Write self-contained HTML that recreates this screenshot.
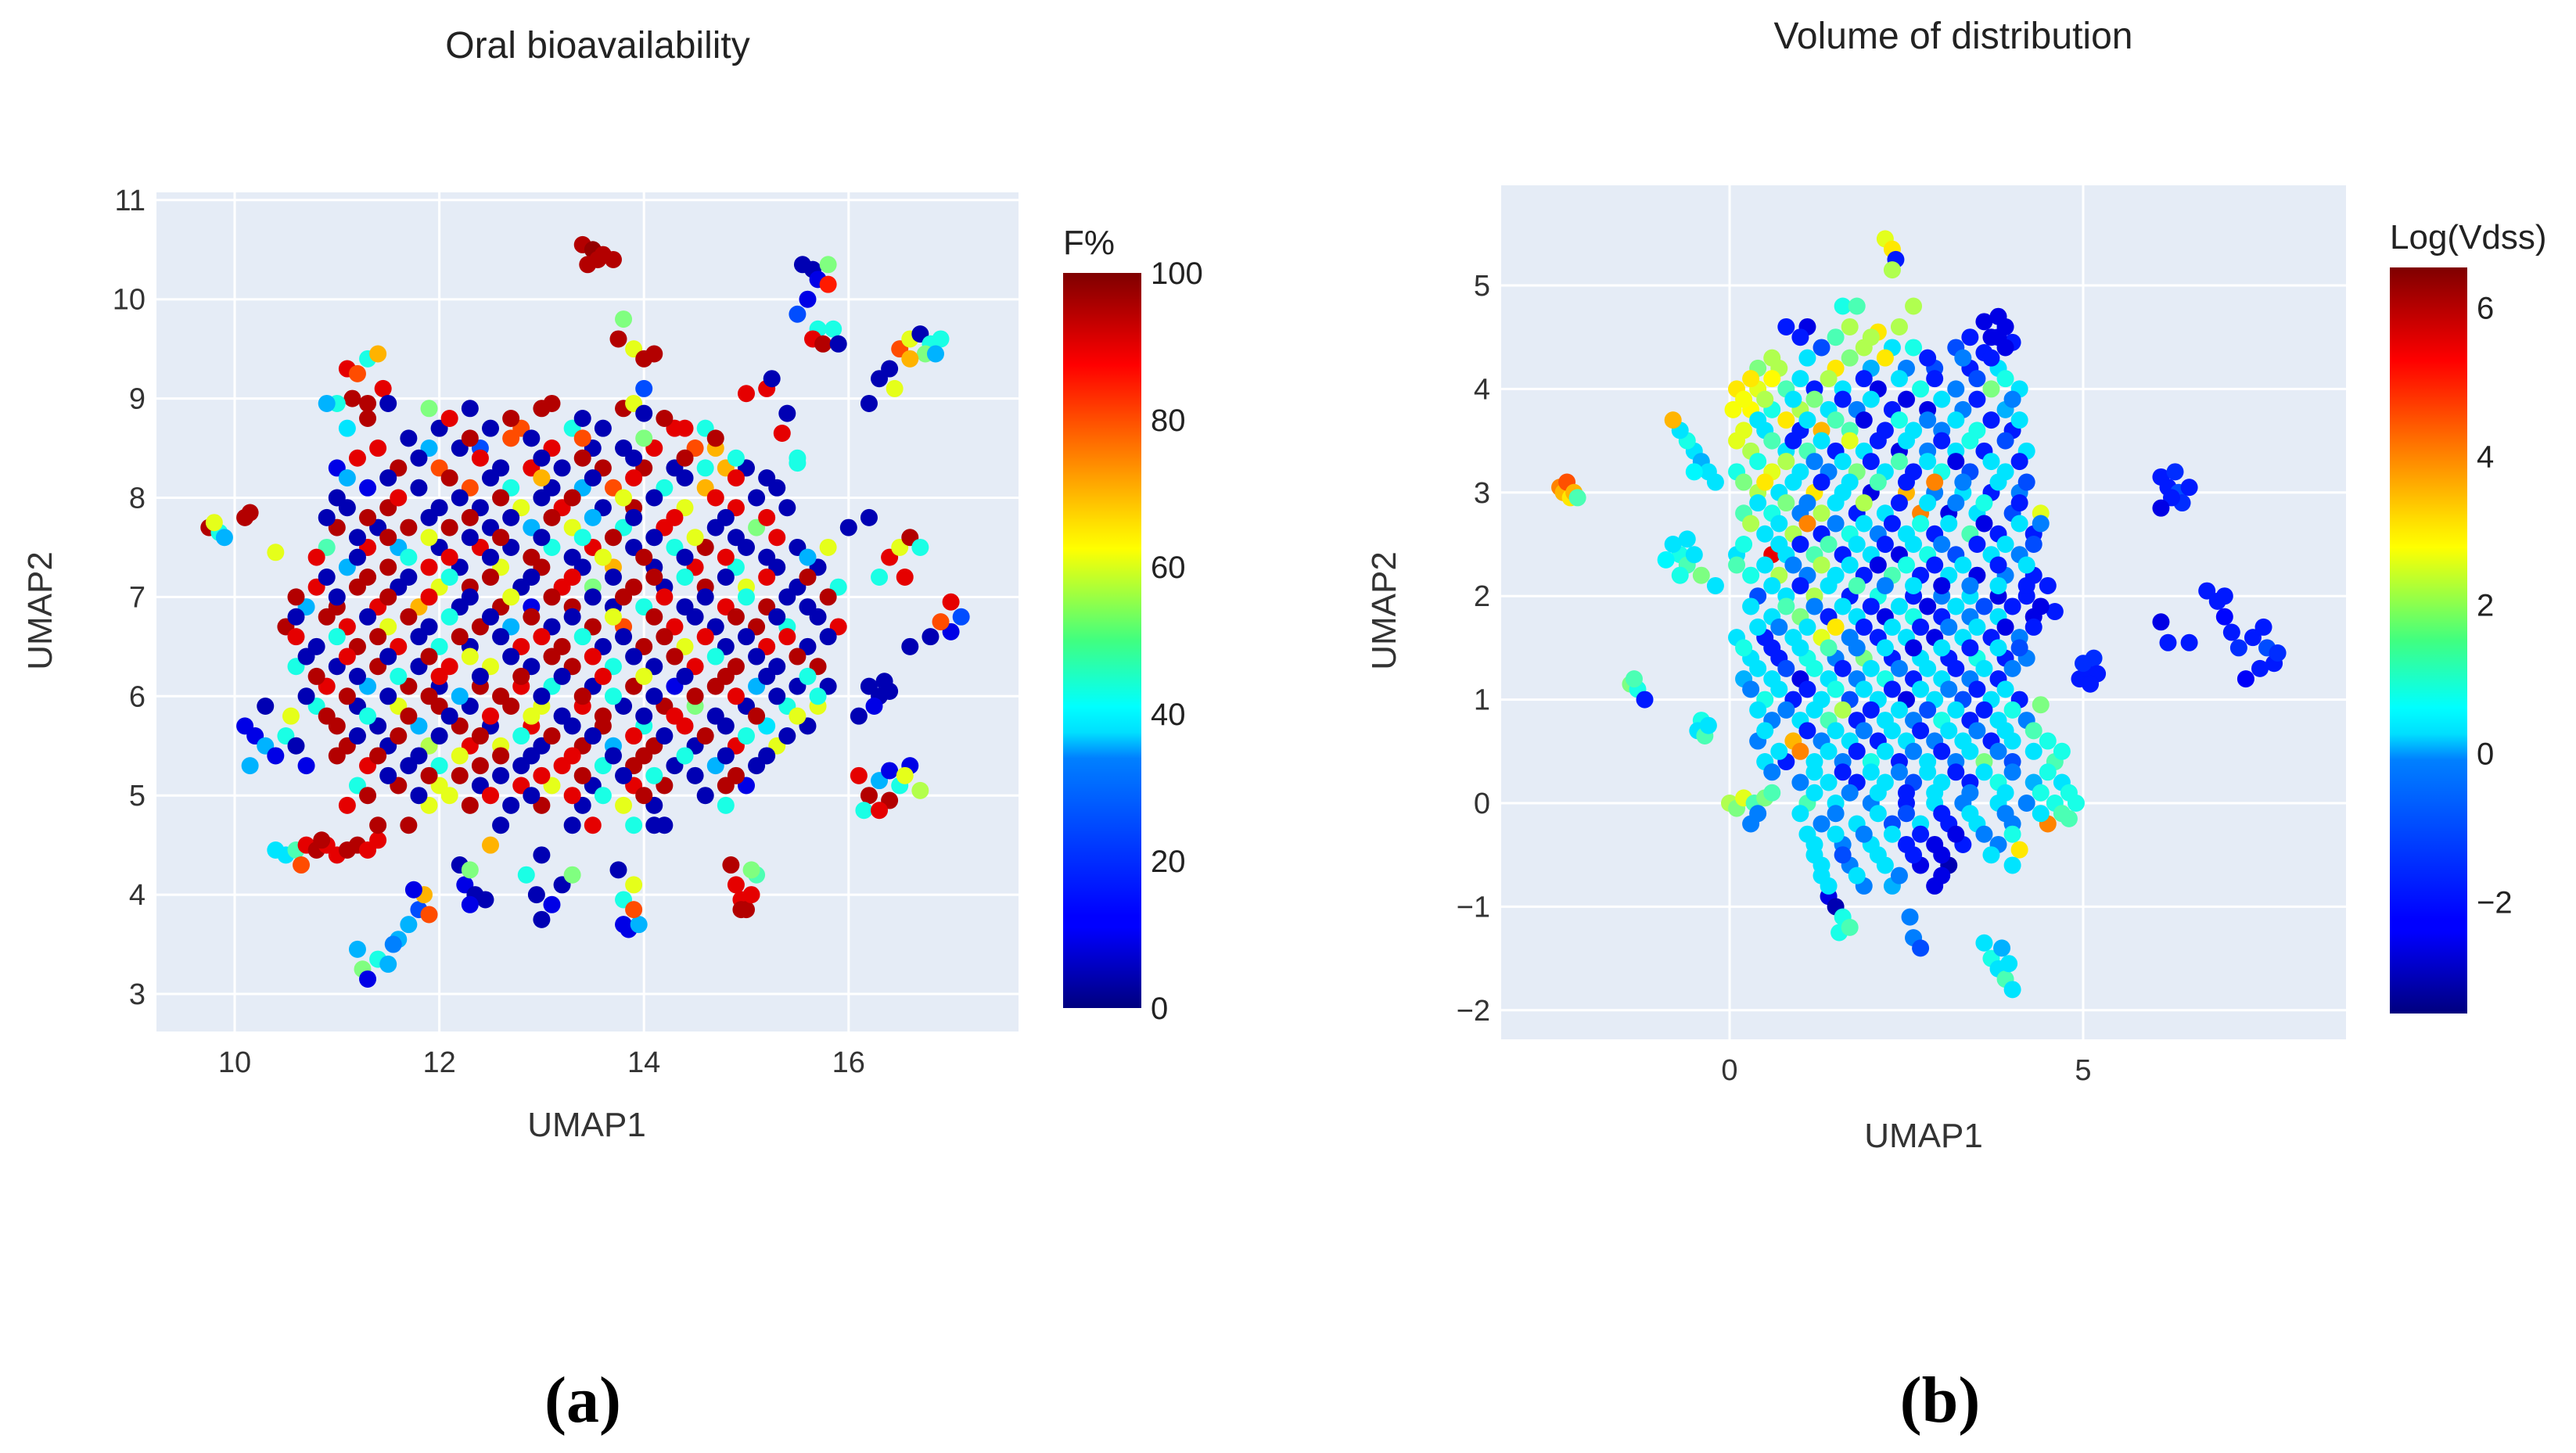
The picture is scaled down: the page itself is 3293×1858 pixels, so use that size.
<!DOCTYPE html>
<html><head><meta charset="utf-8">
<style>
html,body{margin:0;padding:0;background:#fff;}
svg{display:block;font-family:"Liberation Sans",sans-serif;}
</style></head>
<body>
<svg id="fig" width="3293" height="1858" viewBox="0 0 3293 1858" xmlns="http://www.w3.org/2000/svg">
<defs>
<linearGradient id="jet" x1="0" y1="1" x2="0" y2="0">
<stop offset="0" stop-color="#00007f"/><stop offset="0.11" stop-color="#0000ff"/>
<stop offset="0.125" stop-color="#0000ff"/><stop offset="0.34" stop-color="#0080ff"/>
<stop offset="0.375" stop-color="#00dfff"/><stop offset="0.41" stop-color="#00ffff"/>
<stop offset="0.5" stop-color="#40ff80"/><stop offset="0.625" stop-color="#ffff00"/>
<stop offset="0.66" stop-color="#ffdf00"/><stop offset="0.875" stop-color="#ff0000"/>
<stop offset="1" stop-color="#7f0000"/>
</linearGradient>
</defs>
<g id="panelA"></g>
<g id="panelB"></g>
<text x="745" y="1818" font-family="Liberation Serif,serif" font-weight="bold" font-size="84" text-anchor="middle">(a)</text>
<text x="2480" y="1818" font-family="Liberation Serif,serif" font-weight="bold" font-size="84" text-anchor="middle">(b)</text>
</svg>
<script>
// ---------- Data: panel A (UMAP1, UMAP2, F%) ----------
const aXTicks = [10,12,14,16];
const aYTicks = [3,4,5,6,7,8,9,10,11];
const aCbTicks = [0,20,40,60,80,100];
const aPoints = [
[9.75,7.7,95],[9.85,7.65,40],[9.8,7.75,60],[10.1,7.8,95],[10.15,7.85,95],[9.9,7.6,30],[10.4,7.45,60],
[13.4,10.55,95],[13.5,10.5,98],[13.55,10.4,95],[13.45,10.35,95],[13.6,10.45,95],[13.7,10.4,95],
[15.55,10.35,5],[15.65,10.3,5],[15.7,10.2,10],[15.8,10.35,50],[15.6,10.0,10],[15.5,9.85,20],[15.7,9.7,40],[15.65,9.6,90],[15.75,9.55,95],[15.85,9.7,40],[15.9,9.55,5],[15.8,10.15,85],
[16.5,9.5,80],[16.6,9.6,60],[16.7,9.65,5],[16.8,9.55,40],[16.9,9.6,40],[16.75,9.45,50],[16.85,9.45,30],[16.6,9.4,70],[16.4,9.3,5],[16.3,9.2,5],[16.45,9.1,60],[16.2,8.95,5],
[10.4,4.45,35],[10.5,4.4,35],[10.6,4.45,45],[10.7,4.5,90],[10.8,4.45,95],[10.9,4.5,90],[11.0,4.4,90],[11.1,4.45,95],[11.2,4.5,95],[11.3,4.45,90],[11.4,4.55,90],[10.65,4.3,80],[10.85,4.55,95],
[11.2,3.45,30],[11.25,3.25,50],[11.3,3.15,10],[11.4,3.35,40],[11.5,3.3,30],[11.6,3.55,30],[11.7,3.7,30],[11.8,3.85,20],[11.85,4.0,70],[11.9,3.8,80],[11.75,4.05,10],[11.55,3.5,25],
[12.2,4.3,5],[12.25,4.1,10],[12.35,4.0,5],[12.3,4.25,50],[12.45,3.95,5],[12.3,3.9,10],
[12.95,4.0,5],[13.1,3.9,10],[13.2,4.1,5],[13.0,3.75,5],[13.3,4.2,50],[12.85,4.2,40],
[13.8,3.7,10],[13.85,3.65,10],[13.95,3.7,30],[13.8,3.95,40],[13.9,4.1,60],[13.75,4.25,5],[13.9,3.85,80],
[14.85,4.3,95],[14.9,4.1,90],[14.95,3.95,90],[15.0,3.85,95],[15.05,4.0,90],[15.1,4.2,45],[14.95,3.85,95],[15.05,4.25,50],
[16.1,5.2,90],[16.2,5.0,95],[16.3,5.15,30],[16.4,5.25,10],[16.5,5.1,40],[16.6,5.3,10],[16.7,5.05,55],[16.15,4.85,40],[16.4,4.95,95],[16.55,5.2,60],[16.3,4.85,90],
[16.2,6.1,5],[16.3,6.0,5],[16.4,6.05,5],[16.25,5.9,10],[16.35,6.15,5],[16.1,5.8,5],
[16.6,6.5,5],[16.8,6.6,5],[17.0,6.65,10],[17.1,6.8,20],[17.0,6.95,90],[16.9,6.75,80],
[16.4,7.4,90],[16.5,7.5,60],[16.6,7.6,95],[16.7,7.5,40],[16.55,7.2,90],[16.3,7.2,40],[16.2,7.8,5],[16.0,7.7,5],
[15.0,9.05,90],[15.2,9.1,90],[15.25,9.2,5],[15.4,8.85,5],[15.35,8.65,90],[15.5,8.35,40],
[10.1,5.7,10],[10.2,5.6,10],[10.3,5.5,30],[10.15,5.3,30],[10.4,5.4,10],[10.5,5.6,40],[10.6,5.5,5],[10.3,5.9,5],[10.7,5.3,10],[10.55,5.8,60],
[11.1,9.3,90],[11.2,9.25,80],[11.3,9.4,40],[11.4,9.45,70],[11.15,9.0,95],[11.3,8.95,95],[11.45,9.1,90],[11.0,8.95,40],[11.1,8.7,35],[11.5,8.95,5],[10.9,8.95,30],
[11.9,8.9,50],[12.3,8.9,5],[13.0,8.9,95],[13.1,8.95,95],[13.8,8.9,95],[13.9,8.95,60],[14.0,8.85,5],
[12.0,8.7,5],[12.5,8.7,5],[12.8,8.7,80],[13.3,8.7,40],[13.6,8.7,5],[14.3,8.7,90],[14.4,8.7,90],[14.6,8.7,40],
[11.4,8.5,90],[11.9,8.5,30],[12.2,8.5,5],[12.4,8.5,20],[13.1,8.5,90],[13.5,8.5,5],[13.8,8.5,5],[14.1,8.5,90],[14.5,8.5,80],[14.7,8.5,70],
[11.0,8.3,10],[11.6,8.3,95],[12.0,8.3,80],[12.6,8.3,5],[12.9,8.3,90],[13.2,8.3,5],[13.6,8.3,95],[14.0,8.3,95],[14.3,8.3,5],[14.8,8.3,70],[15.0,8.3,5],
[11.3,8.1,10],[11.8,8.1,5],[12.3,8.1,80],[12.7,8.1,40],[13.1,8.1,5],[13.4,8.1,30],[13.7,8.1,80],[14.2,8.1,40],[14.6,8.1,70],[15.3,8.1,5],
[11.1,7.9,5],[11.5,7.9,95],[12.0,7.9,5],[12.4,7.9,5],[12.8,7.9,60],[13.2,7.9,90],[13.6,7.9,5],[13.9,7.9,95],[14.4,7.9,60],[14.9,7.9,90],[15.4,7.9,5],
[11.0,7.7,95],[11.4,7.7,5],[11.7,7.7,95],[12.1,7.7,95],[12.5,7.7,5],[12.9,7.7,30],[13.3,7.7,60],[13.8,7.7,40],[14.2,7.7,90],[14.7,7.7,5],[15.1,7.7,50],
[10.9,7.5,45],[11.3,7.5,90],[11.6,7.5,30],[12.0,7.5,5],[12.4,7.5,90],[12.7,7.5,5],[13.1,7.5,40],[13.5,7.5,90],[13.9,7.5,5],[14.3,7.5,40],[14.6,7.5,95],[15.0,7.5,5],[15.5,7.5,5],[15.8,7.5,60],
[11.1,7.3,30],[11.5,7.3,95],[11.9,7.3,90],[12.2,7.3,5],[12.6,7.3,60],[13.0,7.3,95],[13.4,7.3,5],[13.7,7.3,70],[14.1,7.3,5],[14.5,7.3,90],[14.9,7.3,40],[15.3,7.3,5],[15.7,7.3,5],
[10.8,7.1,90],[11.2,7.1,95],[11.6,7.1,5],[12.0,7.1,60],[12.3,7.1,95],[12.8,7.1,5],[13.2,7.1,90],[13.5,7.1,50],[13.9,7.1,95],[14.2,7.1,5],[14.6,7.1,95],[15.0,7.1,60],[15.5,7.1,5],[15.9,7.1,40],
[10.7,6.9,30],[11.0,6.9,95],[11.4,6.9,90],[11.8,6.9,70],[12.2,6.9,5],[12.6,6.9,95],[12.9,6.9,10],[13.3,6.9,95],[13.7,6.9,5],[14.0,6.9,40],[14.4,6.9,5],[14.8,6.9,90],[15.2,6.9,95],[15.6,6.9,5],
[10.5,6.7,95],[11.1,6.7,90],[11.5,6.7,60],[11.9,6.7,5],[12.4,6.7,95],[12.7,6.7,30],[13.1,6.7,5],[13.5,6.7,95],[13.8,6.7,80],[14.3,6.7,90],[14.7,6.7,5],[15.1,6.7,95],[15.4,6.7,40],[15.9,6.7,90],
[10.8,6.5,5],[11.2,6.5,95],[11.6,6.5,90],[12.0,6.5,40],[12.3,6.5,5],[12.8,6.5,90],[13.2,6.5,95],[13.6,6.5,5],[14.0,6.5,95],[14.4,6.5,60],[14.8,6.5,5],[15.2,6.5,90],[15.6,6.5,5],
[10.6,6.3,40],[11.0,6.3,5],[11.4,6.3,95],[11.8,6.3,5],[12.1,6.3,90],[12.5,6.3,60],[12.9,6.3,5],[13.3,6.3,95],[13.7,6.3,40],[14.1,6.3,5],[14.5,6.3,90],[14.9,6.3,95],[15.3,6.3,5],[15.7,6.3,95],
[10.9,6.1,90],[11.3,6.1,30],[11.7,6.1,95],[12.0,6.1,5],[12.4,6.1,95],[12.8,6.1,90],[13.1,6.1,40],[13.5,6.1,5],[13.9,6.1,95],[14.3,6.1,10],[14.7,6.1,95],[15.1,6.1,30],[15.5,6.1,5],[15.8,6.1,5],
[10.8,5.9,40],[11.2,5.9,5],[11.6,5.9,60],[12.0,5.9,95],[12.3,5.9,5],[12.7,5.9,95],[13.0,5.9,60],[13.4,5.9,90],[13.8,5.9,5],[14.2,5.9,95],[14.5,5.9,50],[15.0,5.9,5],[15.4,5.9,40],[15.7,5.9,60],
[11.0,5.7,95],[11.4,5.7,5],[11.8,5.7,30],[12.2,5.7,95],[12.5,5.7,5],[12.9,5.7,90],[13.3,5.7,5],[13.6,5.7,95],[14.0,5.7,40],[14.4,5.7,90],[14.8,5.7,5],[15.2,5.7,35],[15.6,5.7,5],
[11.1,5.5,95],[11.5,5.5,5],[11.9,5.5,55],[12.3,5.5,90],[12.6,5.5,60],[13.0,5.5,5],[13.4,5.5,95],[13.7,5.5,30],[14.1,5.5,95],[14.5,5.5,5],[14.9,5.5,90],[15.3,5.5,60],
[11.3,5.3,90],[11.7,5.3,5],[12.0,5.3,40],[12.4,5.3,95],[12.8,5.3,5],[13.2,5.3,90],[13.6,5.3,40],[13.9,5.3,95],[14.3,5.3,5],[14.7,5.3,30],[15.1,5.3,5],
[11.2,5.1,40],[11.6,5.1,95],[12.0,5.1,60],[12.4,5.1,5],[12.8,5.1,90],[13.1,5.1,60],[13.5,5.1,5],[13.9,5.1,90],[14.2,5.1,95],[14.8,5.1,95],[15.0,5.1,10],
[11.1,4.9,90],[11.9,4.9,60],[12.3,4.9,95],[12.7,4.9,5],[13.0,4.9,95],[13.4,4.9,5],[13.8,4.9,60],[14.1,4.9,5],[14.8,4.9,40],
[11.4,4.7,95],[12.6,4.7,5],[13.3,4.7,5],[13.5,4.7,90],[13.9,4.7,40],[14.1,4.7,5],[14.2,4.7,5],
[12.7,8.6,80],[12.5,4.5,70],[11.7,4.7,95],[13.0,4.4,5],[14.6,8.3,40],[13.8,9.8,50],[13.75,9.6,95],[13.9,9.5,60],[14.0,9.4,95],[14.1,9.45,95],[14.0,9.1,20],[15.5,8.4,40],
[12.1,8.8,90],[12.7,8.8,95],[13.4,8.8,5],[14.2,8.8,95],[11.3,8.8,95],
[11.7,8.6,5],[12.3,8.6,95],[12.9,8.6,5],[13.4,8.6,80],[14.0,8.6,50],[14.7,8.6,95],
[11.2,8.4,90],[11.8,8.4,5],[12.4,8.4,90],[13.0,8.4,5],[13.4,8.4,95],[13.9,8.4,5],[14.4,8.4,95],[14.9,8.4,40],
[11.1,8.2,30],[11.5,8.2,5],[12.1,8.2,95],[12.5,8.2,5],[13.0,8.2,70],[13.5,8.2,5],[13.9,8.2,90],[14.4,8.2,5],[14.9,8.2,90],[15.2,8.2,5],
[11.0,8.0,5],[11.6,8.0,90],[12.2,8.0,5],[12.6,8.0,95],[13.0,8.0,5],[13.3,8.0,95],[13.8,8.0,60],[14.1,8.0,5],[14.7,8.0,90],[15.1,8.0,5],
[10.9,7.8,5],[11.3,7.8,95],[11.9,7.8,5],[12.3,7.8,95],[12.7,7.8,5],[13.1,7.8,95],[13.5,7.8,30],[13.9,7.8,5],[14.3,7.8,90],[14.8,7.8,5],[15.2,7.8,90],
[11.2,7.6,5],[11.5,7.6,95],[11.9,7.6,60],[12.3,7.6,5],[12.6,7.6,95],[13.0,7.6,5],[13.4,7.6,40],[13.7,7.6,95],[14.1,7.6,5],[14.5,7.6,60],[14.9,7.6,5],[15.3,7.6,90],
[10.8,7.4,90],[11.2,7.4,5],[11.7,7.4,40],[12.1,7.4,90],[12.5,7.4,5],[12.9,7.4,95],[13.3,7.4,5],[13.6,7.4,60],[14.0,7.4,95],[14.4,7.4,5],[14.8,7.4,90],[15.2,7.4,5],[15.6,7.4,30],
[10.9,7.2,5],[11.3,7.2,95],[11.7,7.2,5],[12.1,7.2,40],[12.5,7.2,95],[12.9,7.2,5],[13.3,7.2,90],[13.7,7.2,5],[14.1,7.2,95],[14.4,7.2,40],[14.8,7.2,5],[15.2,7.2,90],[15.6,7.2,95],
[10.6,7.0,95],[11.0,7.0,5],[11.5,7.0,95],[11.9,7.0,90],[12.3,7.0,5],[12.7,7.0,60],[13.1,7.0,95],[13.5,7.0,5],[13.8,7.0,95],[14.2,7.0,90],[14.6,7.0,5],[15.0,7.0,40],[15.4,7.0,5],[15.8,7.0,95],
[10.6,6.8,5],[10.9,6.8,95],[11.3,6.8,5],[11.7,6.8,95],[12.1,6.8,40],[12.5,6.8,5],[12.9,6.8,95],[13.3,6.8,5],[13.7,6.8,60],[14.1,6.8,95],[14.5,6.8,5],[14.9,6.8,95],[15.3,6.8,5],[15.7,6.8,5],
[10.6,6.6,90],[11.0,6.6,40],[11.4,6.6,95],[11.8,6.6,5],[12.2,6.6,95],[12.6,6.6,5],[13.0,6.6,90],[13.4,6.6,40],[13.8,6.6,5],[14.2,6.6,95],[14.6,6.6,90],[15.0,6.6,5],[15.4,6.6,90],[15.8,6.6,5],
[10.7,6.4,5],[11.1,6.4,90],[11.5,6.4,5],[11.9,6.4,95],[12.3,6.4,60],[12.7,6.4,5],[13.1,6.4,95],[13.5,6.4,90],[13.9,6.4,5],[14.3,6.4,95],[14.7,6.4,40],[15.1,6.4,5],[15.5,6.4,95],
[10.8,6.2,95],[11.2,6.2,5],[11.6,6.2,40],[12.0,6.2,90],[12.4,6.2,5],[12.8,6.2,95],[13.2,6.2,5],[13.6,6.2,90],[14.0,6.2,60],[14.4,6.2,5],[14.8,6.2,95],[15.2,6.2,5],[15.6,6.2,40],
[10.7,6.0,5],[11.1,6.0,95],[11.5,6.0,5],[11.9,6.0,95],[12.2,6.0,30],[12.6,6.0,95],[13.0,6.0,5],[13.4,6.0,95],[13.7,6.0,40],[14.1,6.0,5],[14.5,6.0,95],[14.9,6.0,90],[15.3,6.0,5],[15.7,6.0,40],
[10.9,5.8,95],[11.3,5.8,40],[11.7,5.8,95],[12.1,5.8,5],[12.5,5.8,90],[12.9,5.8,60],[13.2,5.8,5],[13.6,5.8,95],[14.0,5.8,5],[14.3,5.8,90],[14.7,5.8,5],[15.1,5.8,95],[15.5,5.8,60],
[11.2,5.6,5],[11.6,5.6,95],[12.0,5.6,5],[12.4,5.6,95],[12.8,5.6,40],[13.1,5.6,95],[13.5,5.6,5],[13.9,5.6,90],[14.2,5.6,5],[14.6,5.6,95],[15.0,5.6,40],[15.4,5.6,5],
[11.0,5.4,95],[11.4,5.4,95],[11.8,5.4,5],[12.2,5.4,60],[12.6,5.4,95],[12.9,5.4,5],[13.3,5.4,90],[13.7,5.4,5],[14.0,5.4,95],[14.4,5.4,40],[14.8,5.4,5],[15.2,5.4,5],
[11.5,5.2,5],[11.9,5.2,95],[12.2,5.2,95],[12.6,5.2,5],[13.0,5.2,90],[13.4,5.2,95],[13.8,5.2,5],[14.1,5.2,40],[14.5,5.2,5],[14.9,5.2,95],
[11.3,5.0,95],[11.8,5.0,5],[12.1,5.0,60],[12.5,5.0,90],[12.9,5.0,5],[13.3,5.0,90],[13.6,5.0,40],[14.0,5.0,95],[14.6,5.0,5]
];
// ---------- Data: panel B (UMAP1, UMAP2, Log(Vdss)) ----------
const bXTicks = [0,5];
const bYTicks = [-2,-1,0,1,2,3,4,5];
const bCbTicks = [-2,0,2,4,6];
const bPoints = [
[-2.4,3.05,4],[-2.35,3.0,3.5],[-2.3,3.1,4.5],[-2.25,2.95,3],[-2.2,3.0,3.5],[-2.15,2.95,1],
[-1.4,1.15,1.5],[-1.3,1.1,0.5],[-1.2,1.0,-2],[-1.35,1.2,1],
[-0.4,0.8,0.5],[-0.45,0.7,0],[-0.35,0.65,1],[-0.3,0.75,0],
[-0.7,2.4,0.5],[-0.8,2.5,0],[-0.6,2.3,1],[-0.5,2.4,0],[-0.4,2.2,1.5],[-0.2,2.1,0],[-0.7,2.2,0.5],[-0.9,2.35,0.2],[-0.6,2.55,0],
[-0.5,3.4,0],[-0.4,3.3,-0.5],[-0.6,3.5,0.5],[-0.3,3.2,0],[-0.7,3.6,0],[-0.5,3.2,0.2],[-0.2,3.1,0],[-0.8,3.7,3.5],
[6.1,3.15,-2],[6.2,3.05,-2],[6.3,3.2,-1.8],[6.35,3.0,-1.5],[6.4,2.9,-1.8],[6.5,3.05,-2],[6.25,2.95,-2],[6.1,2.85,-2.5],
[4.95,1.2,-2],[5.05,1.3,-2],[5.15,1.4,-1.8],[5.2,1.25,-2],[5.0,1.35,-1.8],[5.1,1.15,-2],
[6.75,2.05,-2],[6.9,1.95,-2],[7.0,1.8,-2.2],[7.1,1.65,-2],[7.2,1.5,-1.8],[7.4,1.6,-2],[7.55,1.7,-2],[7.6,1.5,-1.5],[7.7,1.35,-2],[7.5,1.3,-2],[7.3,1.2,-2.3],[6.5,1.55,-2],[6.2,1.55,-2],[6.1,1.75,-2.5],[7.0,2.0,-2],[7.75,1.45,-1.8],
[2.2,5.45,2.5],[2.3,5.35,3],[2.35,5.25,-2],[2.3,5.15,2],
[3.6,-1.35,0],[3.7,-1.5,0.5],[3.8,-1.6,0],[3.9,-1.7,1],[4.0,-1.8,0],[3.85,-1.4,-0.5],[3.95,-1.55,0],
[2.6,-1.3,-1],[2.7,-1.4,-1.5],[2.55,-1.1,-1],
[1.4,-0.9,-2.5],[1.5,-1.0,-3],[1.6,-1.1,0.5],[1.55,-1.25,0.5],[1.7,-1.2,1],
[1.6,4.8,0.5],[1.8,4.8,1],[2.6,4.8,2],[3.6,4.65,-2.5],[3.8,4.7,-2.5],[3.9,4.6,-2.5],
[0.8,4.6,-2],[1.1,4.6,-2.5],[1.7,4.6,2],[2.1,4.55,3],[2.4,4.6,2],[3.7,4.5,-2.5],[4.0,4.45,-2],
[1.3,4.4,-1.5],[1.9,4.4,2],[2.3,4.4,0],[2.6,4.4,0.5],[3.2,4.4,-1.5],[3.6,4.35,-2],[3.9,4.4,-2.5],
[0.4,4.2,1.5],[0.7,4.2,2],[1.5,4.2,3],[2.0,4.2,-0.5],[2.5,4.2,-1],[2.9,4.2,-1.5],[3.4,4.2,-2],[3.8,4.2,0],
[0.1,4.0,3],[0.4,4.0,2.5],[0.8,4.0,1],[1.2,4.0,-2],[1.6,4.0,0],[2.1,4.0,-2.5],[2.7,4.0,0.5],[3.2,4.0,-1],[3.7,4.0,1.5],[4.1,4.0,0],
[0.05,3.8,2.7],[0.3,3.8,2.8],[0.6,3.8,0.5],[1.0,3.8,2],[1.4,3.8,0],[1.8,3.8,-1],[2.3,3.8,-2],[2.8,3.8,-2.5],[3.3,3.8,-1],[3.9,3.8,-0.5],
[0.2,3.6,2.5],[0.5,3.6,0],[1.0,3.6,-2],[1.3,3.6,3.5],[1.7,3.6,1],[2.2,3.6,-2],[2.6,3.6,0],[3.0,3.6,-1],[3.5,3.6,0.5],[4.0,3.6,-2],
[0.3,3.4,2],[0.8,3.4,0],[1.1,3.4,1],[1.5,3.4,-2],[1.9,3.4,0],[2.4,3.4,-2.5],[2.8,3.4,-1],[3.2,3.4,0],[3.6,3.4,-2],[4.2,3.4,0],
[0.1,3.2,0.5],[0.6,3.2,2.5],[1.0,3.2,0],[1.4,3.2,-1],[1.8,3.2,1.5],[2.2,3.2,0],[2.6,3.2,-2],[3.0,3.2,0.5],[3.4,3.2,-1.5],[3.9,3.2,0],
[0.4,3.0,2],[0.7,3.0,0],[1.2,3.0,3],[1.6,3.0,0],[2.0,3.0,-2.5],[2.5,3.0,3.5],[2.9,3.0,-1],[3.3,3.0,0],[3.7,3.0,-2],[4.1,3.0,-1],
[0.2,2.8,1],[0.6,2.8,0.5],[1.0,2.8,-1],[1.3,2.8,2],[1.8,2.8,-2],[2.2,2.8,0],[2.7,2.8,4],[3.1,2.8,-2.5],[3.5,2.8,0],[4.0,2.8,-1.5],[4.4,2.8,2.5],
[0.5,2.6,0],[0.9,2.6,2],[1.3,2.6,-2],[1.7,2.6,0.5],[2.1,2.6,-1],[2.5,2.6,0],[2.9,2.6,-2],[3.4,2.6,1],[3.8,2.6,-2],[4.3,2.6,-2],
[0.1,2.4,0],[0.6,2.4,5.5],[0.8,2.4,0],[1.2,2.4,1],[1.6,2.4,-2],[2.0,2.4,0],[2.4,2.4,-2.5],[2.8,2.4,0.5],[3.2,2.4,-1.5],[3.7,2.4,0],[4.1,2.4,-1],
[0.3,2.2,0.5],[0.7,2.2,2],[1.1,2.2,-1],[1.5,2.2,0],[1.9,2.2,-2],[2.3,2.2,1],[2.7,2.2,-2],[3.1,2.2,0],[3.5,2.2,-2.5],[3.9,2.2,-1],[4.3,2.2,-2],
[0.4,2.0,-1.5],[0.8,2.0,0],[1.2,2.0,2],[1.7,2.0,-2],[2.1,2.0,0.5],[2.6,2.0,-2],[3.0,2.0,-1],[3.4,2.0,0],[3.8,2.0,-2.5],[4.2,2.0,-2],
[0.6,1.8,0],[1.0,1.8,1.5],[1.4,1.8,-2],[1.8,1.8,0],[2.2,1.8,-2.5],[2.6,1.8,0.5],[3.0,1.8,-2],[3.4,1.8,-1],[3.8,1.8,0],[4.3,1.8,-2.5],[4.6,1.85,-2],
[0.1,1.6,0],[0.5,1.6,-2],[0.9,1.6,0],[1.3,1.6,2.5],[1.7,1.6,-1],[2.1,1.6,-2],[2.5,1.6,0],[2.9,1.6,-2.5],[3.3,1.6,0],[3.7,1.6,-2],[4.1,1.6,-1],
[0.3,1.4,0],[0.7,1.4,-2],[1.1,1.4,0.5],[1.5,1.4,-1],[1.9,1.4,1.5],[2.3,1.4,-2],[2.7,1.4,0],[3.1,1.4,-2],[3.5,1.4,0.5],[3.9,1.4,-2],[4.2,1.4,-1],
[0.2,1.2,-0.5],[0.6,1.2,0],[1.0,1.2,-2.5],[1.4,1.2,0],[1.8,1.2,-1],[2.2,1.2,0.5],[2.6,1.2,-2],[3.0,1.2,0],[3.4,1.2,-1],[3.8,1.2,-2],
[0.5,1.0,0.5],[0.9,1.0,-2],[1.3,1.0,0],[1.7,1.0,-1.5],[2.1,1.0,0],[2.5,1.0,-2.5],[2.9,1.0,0],[3.3,1.0,-1.5],[3.7,1.0,0],[4.1,1.0,-2],[4.4,0.95,1.5],
[0.6,0.8,-1],[1.0,0.8,0],[1.4,0.8,1],[1.8,0.8,-2],[2.2,0.8,0],[2.6,0.8,-1],[3.0,0.8,0.5],[3.4,0.8,-2],[3.8,0.8,0],[4.2,0.8,-1],
[0.4,0.6,-1],[0.9,0.6,3.5],[1.3,0.6,-1],[1.7,0.6,0],[2.1,0.6,-2],[2.5,0.6,0],[2.9,0.6,-1],[3.3,0.6,0],[3.7,0.6,-2],[4.0,0.6,0],[4.5,0.6,0.5],
[0.5,0.4,0],[0.8,0.4,-2],[1.2,0.4,0],[1.6,0.4,-1],[2.0,0.4,0.5],[2.4,0.4,-2],[2.8,0.4,0],[3.2,0.4,-1],[3.6,0.4,1.5],[4.0,0.4,-1.5],[4.6,0.4,1],
[1.0,0.2,-1],[1.4,0.2,0],[1.8,0.2,-2],[2.2,0.2,0],[2.6,0.2,-1.5],[3.0,0.2,0],[3.4,0.2,-2],[3.8,0.2,0.5],[4.3,0.2,-0.5],[4.7,0.2,0],
[0.0,0.0,2],[0.1,-0.05,1.5],[0.2,0.05,2.5],[0.35,0.0,1],[0.5,0.05,1.5],[1.1,0.0,1],[1.5,0.0,0],[2.0,0.0,-1],[2.5,0.0,-2],[2.9,0.0,0],[3.3,0.0,-1],[3.8,0.0,0],[4.2,0.0,-1],[4.6,0.0,0.5],[4.9,0.0,0.5],
[0.3,-0.2,-1],[1.3,-0.2,-1],[1.8,-0.2,0],[2.3,-0.2,-1.5],[2.7,-0.2,0],[3.1,-0.2,-2],[3.5,-0.2,0],[4.0,-0.2,-1],[4.5,-0.2,4],[4.8,-0.15,1],
[1.2,-0.4,0],[1.6,-0.4,-1],[2.0,-0.4,0],[2.5,-0.4,-2],[2.9,-0.4,-2.5],[3.3,-0.4,-2],[3.8,-0.4,-1],[4.1,-0.45,3],
[1.3,-0.6,0],[1.7,-0.6,-1],[2.2,-0.6,0],[2.7,-0.6,-2.5],[3.1,-0.6,-3],[4.0,-0.6,0],
[1.4,-0.8,0],[1.9,-0.8,-1],[2.3,-0.8,-0.5],[2.9,-0.8,-2.5],
[1.0,4.5,-2],[1.5,4.5,1],[2.0,4.5,2],[3.4,4.5,-2],[3.8,4.5,-2.5],
[0.6,4.3,2],[1.1,4.3,0],[1.7,4.3,1.5],[2.2,4.3,3],[2.8,4.3,-2],[3.3,4.3,-1],[3.7,4.3,-2],
[0.3,4.1,3],[0.6,4.1,2.8],[1.0,4.1,0],[1.4,4.1,2],[1.9,4.1,-2],[2.4,4.1,0],[2.9,4.1,-2],[3.5,4.1,-1.5],[3.9,4.1,0.5],
[0.2,3.9,2.7],[0.5,3.9,2],[0.9,3.9,0],[1.2,3.9,1.5],[1.6,3.9,-2],[2.0,3.9,0],[2.5,3.9,-2.5],[3.0,3.9,0],[3.5,3.9,-2],[4.0,3.9,-1],
[0.4,3.7,0],[0.8,3.7,3],[1.1,3.7,0],[1.5,3.7,1],[1.9,3.7,-2.5],[2.4,3.7,0.5],[2.8,3.7,-1],[3.2,3.7,0],[3.7,3.7,-2],[4.1,3.7,0],
[0.1,3.5,2.5],[0.6,3.5,1],[0.9,3.5,-2],[1.3,3.5,0],[1.7,3.5,2.5],[2.1,3.5,-2],[2.5,3.5,0],[3.0,3.5,-2],[3.4,3.5,0.5],[3.9,3.5,-1.5],
[0.4,3.3,0.5],[0.8,3.3,2],[1.2,3.3,-1],[1.6,3.3,0],[2.0,3.3,-2],[2.4,3.3,1],[2.8,3.3,0],[3.2,3.3,-2.5],[3.7,3.3,0],[4.1,3.3,-2],
[0.2,3.1,1.5],[0.5,3.1,3],[0.9,3.1,0],[1.3,3.1,-2],[1.7,3.1,0],[2.1,3.1,1],[2.5,3.1,-2],[2.9,3.1,4],[3.3,3.1,-1],[3.8,3.1,0],[4.2,3.1,-1.5],
[0.4,2.9,0],[0.8,2.9,1.5],[1.1,2.9,-1],[1.5,2.9,0],[1.9,2.9,2],[2.4,2.9,-2],[2.8,2.9,0],[3.2,2.9,-1],[3.6,2.9,0.5],[4.1,2.9,-2],
[0.3,2.7,2],[0.7,2.7,0],[1.1,2.7,4],[1.5,2.7,-1],[1.9,2.7,0],[2.3,2.7,-2],[2.7,2.7,0.5],[3.1,2.7,0],[3.6,2.7,-2.5],[4.1,2.7,0],[4.4,2.7,-1],
[0.2,2.5,0.5],[0.7,2.5,0],[1.0,2.5,-2],[1.4,2.5,1],[1.8,2.5,0],[2.2,2.5,-2],[2.6,2.5,0],[3.0,2.5,-1],[3.5,2.5,-2],[3.9,2.5,0],[4.3,2.5,-1.5],
[0.1,2.3,1],[0.5,2.3,0],[0.9,2.3,-1],[1.3,2.3,2],[1.7,2.3,0],[2.1,2.3,-2.5],[2.5,2.3,0.5],[2.9,2.3,-2],[3.3,2.3,0],[3.8,2.3,-2],[4.2,2.3,0],
[0.6,2.1,0],[1.0,2.1,-2],[1.4,2.1,0],[1.8,2.1,1],[2.2,2.1,-1],[2.6,2.1,0],[3.0,2.1,-2.5],[3.4,2.1,-1],[3.8,2.1,0],[4.2,2.1,-2],[4.5,2.1,-2],
[0.3,1.9,0],[0.8,1.9,1],[1.2,1.9,-1],[1.6,1.9,0],[2.0,1.9,-2],[2.4,1.9,0],[2.8,1.9,-2.5],[3.2,1.9,0],[3.6,1.9,-1.5],[4.0,1.9,-2],[4.4,1.9,-2.5],
[0.4,1.7,0],[0.7,1.7,-1],[1.1,1.7,0],[1.5,1.7,3],[1.9,1.7,-2],[2.3,1.7,0],[2.7,1.7,-2],[3.1,1.7,-1],[3.5,1.7,0],[3.9,1.7,-2.5],[4.3,1.7,-2],
[0.2,1.5,0.5],[0.6,1.5,-2],[1.0,1.5,0],[1.4,1.5,1],[1.8,1.5,-1],[2.2,1.5,0],[2.6,1.5,-2.5],[3.0,1.5,0],[3.4,1.5,-2],[3.8,1.5,0],[4.1,1.5,-1.5],
[0.4,1.3,0],[0.8,1.3,-1.5],[1.2,1.3,0.5],[1.6,1.3,-2],[2.0,1.3,0],[2.4,1.3,-1],[2.8,1.3,0],[3.2,1.3,-2],[3.6,1.3,0],[4.0,1.3,-1],
[0.3,1.1,-1],[0.7,1.1,0],[1.1,1.1,-2],[1.5,1.1,0.5],[1.9,1.1,0],[2.3,1.1,-2],[2.7,1.1,0],[3.1,1.1,-1],[3.5,1.1,-2],[3.9,1.1,0],
[0.4,0.9,0],[0.8,0.9,-1],[1.2,0.9,0],[1.6,0.9,2],[2.0,0.9,-2],[2.4,0.9,0],[2.8,0.9,-1.5],[3.2,0.9,0],[3.6,0.9,-2],[4.0,0.9,0.5],
[0.5,0.7,0],[1.1,0.7,-2],[1.5,0.7,0],[1.9,0.7,-1],[2.3,0.7,0],[2.7,0.7,-2],[3.1,0.7,0],[3.5,0.7,-1],[3.9,0.7,0],[4.3,0.7,1],
[0.7,0.5,0],[1.0,0.5,4],[1.4,0.5,0],[1.8,0.5,-2],[2.2,0.5,0],[2.6,0.5,-1],[3.0,0.5,-2],[3.4,0.5,0],[3.8,0.5,-1],[4.3,0.5,0],[4.7,0.5,0.5],
[0.6,0.3,-1],[1.2,0.3,0],[1.6,0.3,-2],[2.0,0.3,0],[2.4,0.3,-1],[2.8,0.3,0],[3.2,0.3,-2],[3.6,0.3,0],[4.0,0.3,-1],[4.5,0.3,0.5],
[0.6,0.1,1],[1.2,0.1,0],[1.7,0.1,-1],[2.1,0.1,0],[2.5,0.1,-2],[2.9,0.1,0],[3.4,0.1,-1],[3.9,0.1,0],[4.4,0.1,0.5],[4.8,0.1,0.5],
[0.4,-0.1,-1],[1.0,-0.1,0],[1.5,-0.1,-1],[2.1,-0.1,0],[2.5,-0.1,-1.5],[3.0,-0.1,-2],[3.4,-0.1,0],[3.9,-0.1,-1],[4.4,-0.1,0],[4.7,-0.1,1],
[1.1,-0.3,0],[1.5,-0.3,0],[1.9,-0.3,-1],[2.3,-0.3,0],[2.7,-0.3,-2],[3.2,-0.3,-2.5],[3.6,-0.3,-1],[4.0,-0.3,0.5],
[1.2,-0.5,0],[1.6,-0.5,-1.5],[2.1,-0.5,0],[2.6,-0.5,-2],[3.0,-0.5,-2.5],[3.7,-0.5,0],
[1.3,-0.7,0],[1.8,-0.7,0],[2.4,-0.7,-1],[3.0,-0.7,-2.5]
];

const NS = 'http://www.w3.org/2000/svg';
function jet(t){
  t = Math.max(0, Math.min(1, t));
  const r = Math.max(0, Math.min(1, 1.5 - Math.abs(4*t - 3)));
  const g = Math.max(0, Math.min(1, 1.5 - Math.abs(4*t - 2)));
  const b = Math.max(0, Math.min(1, 1.5 - Math.abs(4*t - 1)));
  return 'rgb(' + Math.round(r*255) + ',' + Math.round(g*255) + ',' + Math.round(b*255) + ')';
}
function mk(parent, tag, attrs, txt){
  const e = document.createElementNS(NS, tag);
  for (const k in attrs) e.setAttribute(k, attrs[k]);
  if (txt !== undefined) e.textContent = txt;
  parent.appendChild(e);
  return e;
}
function drawPanel(g, cfg, pts, xt, yt, cbt){
  const sx = v => cfg.x0px + (v - cfg.x0) * cfg.xs;
  const sy = v => cfg.y0px - (v - cfg.y0) * cfg.ys;
  const sc = v => cfg.cbBot - (v - cfg.cMin) / (cfg.cMax - cfg.cMin) * (cfg.cbBot - cfg.cbTop);
  const bg = mk(g, 'rect', {x:cfg.L, y:cfg.T, width:cfg.R-cfg.L, height:cfg.B-cfg.T, fill:'#e5ecf6'});
  
  
  xt.forEach(v => {
    const l = mk(g, 'line', {x1:sx(v), x2:sx(v), y1:cfg.T, y2:cfg.B, stroke:'#fff', 'stroke-width':3});
    
    
    const t = mk(g, 'text', {x:sx(v), y:cfg.B+52, 'font-size':38, fill:'#333', 'text-anchor':'middle'}, v < 0 ? '\u2212' + (-v) : String(v));
    
    
  });
  yt.forEach(v => {
    const l = mk(g, 'line', {x1:cfg.L, x2:cfg.R, y1:sy(v), y2:sy(v), stroke:'#fff', 'stroke-width':3});
    
    
    const t = mk(g, 'text', {x:cfg.L-14, y:sy(v)+13, 'font-size':38, fill:'#333', 'text-anchor':'end'}, v < 0 ? '\u2212' + (-v) : String(v));
    
    
  });
  pts.forEach(p => {
    const c = mk(g, 'circle', {cx:sx(p[0]), cy:sy(p[1]), r:11, fill:jet((p[2]-cfg.cMin)/(cfg.cMax-cfg.cMin))});
    
    
  });
  const cb = mk(g, 'rect', {x:cfg.cbL, y:cfg.cbTop, width:cfg.cbW, height:cfg.cbBot-cfg.cbTop, fill:'url(#jet)'});
  
  
  cbt.forEach(v => {
    const t = mk(g, 'text', {x:cfg.cbL+cfg.cbW+12, y:sc(v)+14, 'font-size':40, fill:'#222'}, v < 0 ? '\u2212' + (-v) : String(v));
    
    
  });
  const ti = mk(g, 'text', {x:cfg.titleX, y:cfg.titleY, 'font-size':48, fill:'#222', 'text-anchor':'middle'}, cfg.title);
  
  
  const cbti = mk(g, 'text', {x:cfg.cbL, y:cfg.cbTitleY, 'font-size':44, fill:'#222'}, cfg.cbTitle);
  
  
  const xl = mk(g, 'text', {x:cfg.xlX, y:cfg.xlY, 'font-size':44, fill:'#333', 'text-anchor':'middle'}, 'UMAP1');
  
  
  const yl = mk(g, 'text', {x:0, y:0, 'font-size':44, fill:'#333', 'text-anchor':'middle', transform:'translate(' + cfg.ylX + ',' + cfg.ylY + ') rotate(-90)'}, 'UMAP2');
  
  
}
drawPanel(document.getElementById('panelA'), {
  L:200, R:1302, T:246, B:1319,
  x0:10, x0px:300, xs:130.8, y0:3, y0px:1271, ys:126.9,
  cMin:0, cMax:100, cbL:1359, cbW:100, cbTop:349, cbBot:1289,
  title:'Oral bioavailability', titleX:764, titleY:74,
  cbTitle:'F%', cbTitleY:325, xlX:750, xlY:1453, ylX:66, ylY:781
}, aPoints, aXTicks, aYTicks, aCbTicks);
drawPanel(document.getElementById('panelB'), {
  L:1919, R:2999, T:237, B:1329,
  x0:0, x0px:2211, xs:90.4, y0:0, y0px:1027, ys:132.4,
  cMin:-3.5, cMax:6.54, cbL:3055, cbW:99, cbTop:342, cbBot:1296,
  title:'Volume of distribution', titleX:2497, titleY:62,
  cbTitle:'Log(Vdss)', cbTitleY:318, xlX:2459, xlY:1467, ylX:1784, ylY:781
}, bPoints, bXTicks, bYTicks, bCbTicks);
</script>
</body></html>
